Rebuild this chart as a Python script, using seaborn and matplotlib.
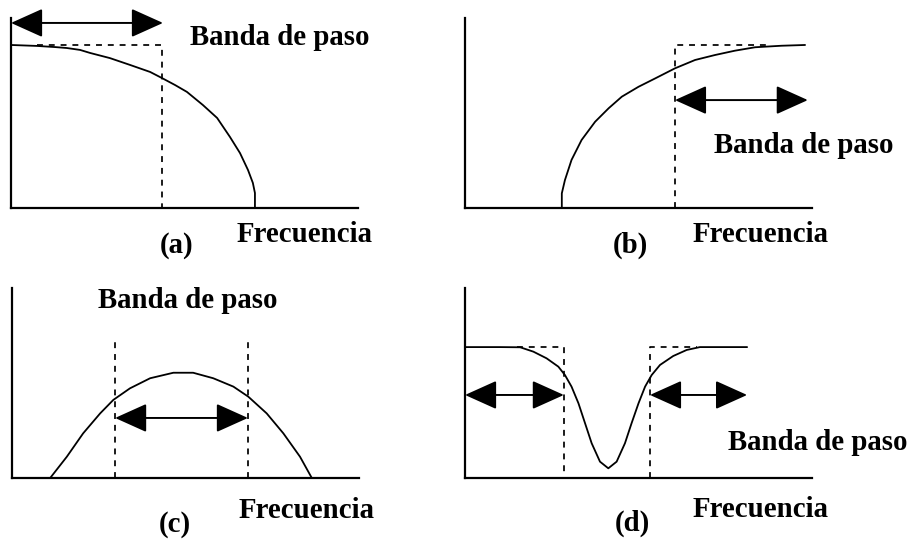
import matplotlib
matplotlib.use("Agg")
import matplotlib.pyplot as plt
from matplotlib.patches import FancyArrowPatch
import seaborn as sns

sns.set_style("white")
plt.rcParams["font.family"] = ["Liberation Serif", "DejaVu Serif"]

# Frequency response curves (frequency 0..10, normalised gain 0..1)
lowpass_f = [0, 0.75, 1.27, 1.61, 1.99, 2.28, 2.85, 3.43, 4.01, 4.35, 4.73,
             5.07, 5.53, 5.94, 6.31, 6.60, 6.83, 6.97, 7.03, 7.03]
lowpass_g = [0.858, 0.853, 0.847, 0.842, 0.832, 0.816, 0.789, 0.753, 0.716, 0.684, 0.647,
             0.611, 0.542, 0.474, 0.374, 0.289, 0.200, 0.132, 0.079, 0]

highpass_f = [2.79, 2.79, 2.88, 3.07, 3.36, 3.75, 4.14, 4.52, 5.00, 5.48, 6.05,
              6.63, 7.20, 7.78, 8.36, 9.12, 9.80]
highpass_g = [0, 0.077, 0.147, 0.253, 0.358, 0.454, 0.525, 0.586, 0.638, 0.682, 0.735,
              0.779, 0.805, 0.828, 0.846, 0.854, 0.858]

bandpass_f = [1.10, 1.58, 2.05, 2.54, 2.92, 3.40, 3.98, 4.65, 5.22, 5.80, 6.38,
              6.81, 7.34, 7.82, 8.30, 8.64]
bandpass_g = [0, 0.112, 0.235, 0.340, 0.411, 0.472, 0.525, 0.554, 0.554, 0.525, 0.481,
              0.428, 0.340, 0.235, 0.112, 0]

bandstop_f = [0, 1.01, 1.59, 1.97, 2.35, 2.69, 2.88, 3.07, 3.27, 3.46, 3.65, 3.89,
              4.13, 4.37, 4.61, 4.80, 5.00, 5.19, 5.38, 5.62, 6.00, 6.39, 6.77, 8.13]
bandstop_g = [0.689, 0.689, 0.688, 0.665, 0.630, 0.586, 0.542, 0.481, 0.393, 0.288, 0.183, 0.086,
              0.051, 0.086, 0.183, 0.288, 0.393, 0.481, 0.542, 0.595, 0.642, 0.674, 0.689, 0.689]

# Ideal pass-band edges and levels
lowpass_edge, lowpass_level = 4.35, 0.858
highpass_edge, highpass_level, highpass_top_end = 6.05, 0.858, 8.79
bandpass_edges, bandpass_top = (2.97, 6.80), 0.737
bandstop_edges, bandstop_level = (2.85, 5.33), 0.689
bandstop_flat = (1.50, 6.69)

# Pass-band arrows: (start, end, height)
arrow_a = (0, 4.38, 0.974)
arrow_b = (6.05, 9.88, 0.568)
arrow_c = (2.97, 6.80, 0.316)
arrow_d = [(0, 2.85, 0.437), (5.33, 8.13, 0.437)]

label_band = "Banda de paso"
label_freq = "Frecuencia"
panel_tags = ["(a)", "(b)", "(c)", "(d)"]

W, H = 915, 541
fig = plt.figure(figsize=(W / 100, H / 100), dpi=100)
fig.patch.set_facecolor("white")

FS = 20.8


def make_axes(left_px, bottom_px):
    ax = fig.add_axes([left_px / W, (H - bottom_px) / H, 347 / W, 190 / H])
    ax.set_xlim(0, 10)
    ax.set_ylim(0, 1)
    for s in ("top", "right"):
        ax.spines[s].set_visible(False)
    for s in ("left", "bottom"):
        ax.spines[s].set_color("black")
        ax.spines[s].set_linewidth(1.6)
    ax.set_xticks([])
    ax.set_yticks([])
    ax.set_xlabel("")
    ax.set_ylabel("")
    ax.patch.set_alpha(0)
    return ax


def curve(ax, f, g):
    sns.lineplot(x=f, y=g, ax=ax, color="black", lw=1.3, sort=False,
                 estimator=None, legend=False)
    ax.lines[-1].set_clip_on(False)
    ax.lines[-1].set_solid_joinstyle("round")


def dashed(ax, xs, ys):
    ax.plot(xs, ys, color="black", lw=1.25, ls=(0, (3.4, 3.4)), clip_on=False)


def arrow(ax, x0, x1, y):
    ax.add_patch(FancyArrowPatch((x0, y), (x1, y),
                                 arrowstyle="<|-|>,head_length=20,head_width=9",
                                 mutation_scale=1, color="black", lw=1.4,
                                 shrinkA=0, shrinkB=0, clip_on=False))


def text(ax, x, y, s):
    ax.text(x, y, s, ha="center", va="baseline", fontsize=FS, fontweight="bold",
            color="black", clip_on=False)


def tag(ax, x, y, s):
    ax.text(x, y, s, ha="center", va="center", fontsize=FS,
            fontweight="bold", color="black", clip_on=False)


# (a) low-pass
ax = make_axes(11, 208)
curve(ax, lowpass_f, lowpass_g)
dashed(ax, [0.75, lowpass_edge, lowpass_edge], [lowpass_level, lowpass_level, 0])
arrow(ax, *arrow_a)
text(ax, 7.75, 0.858, label_band)
text(ax, 8.47, -0.179, label_freq)
tag(ax, 4.78, -0.195, panel_tags[0])

# (b) high-pass
ax = make_axes(465, 208)
curve(ax, highpass_f, highpass_g)
dashed(ax, [highpass_edge, highpass_edge, highpass_top_end], [0, highpass_level, highpass_level])
arrow(ax, *arrow_b)
text(ax, 9.77, 0.289, label_band)
text(ax, 8.53, -0.179, label_freq)
tag(ax, 4.76, -0.195, panel_tags[1])

# (c) band-pass
ax = make_axes(12, 478)
curve(ax, bandpass_f, bandpass_g)
for e in bandpass_edges:
    dashed(ax, [e, e], [0, bandpass_top])
arrow(ax, *arrow_c)
text(ax, 5.07, 0.895, label_band)
text(ax, 8.5, -0.21, label_freq)
tag(ax, 4.70, -0.247, panel_tags[2])

# (d) band-stop
ax = make_axes(465, 478)
curve(ax, bandstop_f, bandstop_g)
dashed(ax, [bandstop_flat[0], bandstop_edges[0], bandstop_edges[0]],
       [bandstop_level, bandstop_level, 0])
dashed(ax, [bandstop_edges[1], bandstop_edges[1], bandstop_flat[1]],
       [0, bandstop_level, bandstop_level])
for a in arrow_d:
    arrow(ax, *a)
text(ax, 10.17, 0.147, label_band)
text(ax, 8.53, -0.205, label_freq)
tag(ax, 4.81, -0.237, panel_tags[3])

fig.savefig("out.png", dpi=100, facecolor="white")
